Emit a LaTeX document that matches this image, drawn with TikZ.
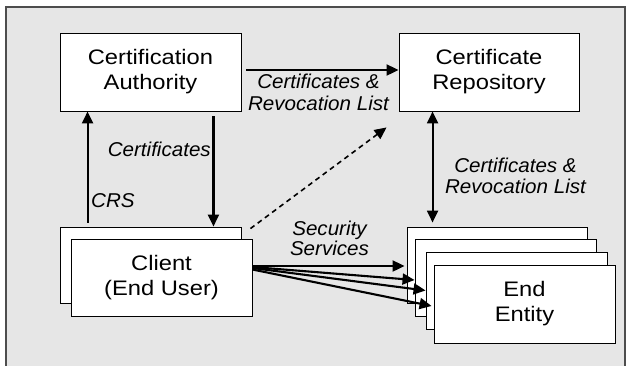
\documentclass[tikz,border=0pt]{standalone}
\usepackage{fontspec}
\setmainfont{Liberation Sans}
\newfontfamily\boxfont[FakeStretch=1.13]{Liberation Sans}
\newfontfamily\notefont[FakeStretch=1.03]{Liberation Sans}
\usetikzlibrary{arrows.meta}
\definecolor{panel}{HTML}{E6E6E6}
\definecolor{rim}{HTML}{4D4D4D}
\begin{document}
\begin{tikzpicture}[x=1pt,y=-1pt,
  entity/.style={draw=black, fill=white, line width=0.9pt,
    minimum width=181pt, minimum height=77pt, inner sep=0pt,
    align=center, font=\boxfont\fontsize{21}{25}\selectfont},
  head/.style={Triangle[length=12pt,width=11pt]},
  flow/.style={line width=2.1pt, -{Triangle[length=12pt,width=11pt]}},
  note/.style={font=\notefont\itshape\fontsize{20}{21}\selectfont,
    align=center, inner sep=0pt}
]
\useasboundingbox (0,0) rectangle (629,365);

% panel behind everything
\fill[panel] (6,7) rectangle (625,366);
\draw[rim, line width=1.5pt] (6,366) -- (6,7) -- (625,7) -- (625,366);

% boxes
\node[entity, minimum height=78pt] (ca) at (150.5,72) {Certification\\Authority};
\node[entity, minimum height=78pt, minimum width=180pt] (cr) at (489,72) {Certificate\\Repository};
\node[entity, minimum height=76pt] (cb) at (150.5,265) {};
\node[entity] (cf) at (161.5,277.5) {Client\\(End User)};
\node[entity, minimum width=180pt, minimum height=76pt] (e1) at (497,265) {};
\node[entity] (e2) at (505.5,277.5) {};
\node[entity] (e3) at (516.5,290.5) {};
\node[entity, minimum height=78pt] (e4) at (524.5,304) {End\\Entity};

% connectors
\draw[flow] ([xshift=5pt,yshift=2pt]ca.east) -- ([yshift=2pt]cr.west);
\draw[flow] ([xshift=28pt,yshift=4pt]cb.north west) -- ([xshift=28pt]ca.south west);
\draw[flow] ([xshift=-28pt,yshift=-5pt]ca.south east) -- ([xshift=-28pt]cb.north east);
\draw[flow, line width=1.6pt, dash pattern=on 5pt off 4pt]
  ([xshift=9pt,yshift=-2pt]cb.north east) -- ([xshift=-12pt,yshift=-16pt]cr.south west);
\draw[line width=2.1pt, {Triangle[length=12pt,width=11pt]}-{Triangle[length=12pt,width=11pt]}]
  ([xshift=34pt]cr.south west) -- ([xshift=26pt,yshift=4pt]e1.north west);

% security services fan
\draw[flow] ([yshift=11.5pt]cf.east) -- ([xshift=-2pt,yshift=-1pt]e1.west);
\draw[flow] ([yshift=10.5pt]cf.east) -- ([yshift=-2.5pt]e2.west);
\draw[flow] ([yshift=9.5pt]cf.east) -- (e3.west);
\draw[flow] ([yshift=8pt]cf.east) -- ([xshift=-2pt,yshift=-2pt]e4.west);

% labels (base anchor sits on the last line)
\node[note, anchor=base, font=\notefont\itshape\fontsize{20}{22}\selectfont] (l1) at (318.5,110) {Certificates \&\\Revocation List};
\node[note, anchor=base] (l2) at (515.5,193) {Certificates \&\\Revocation List};
\node[note, anchor=base east] (l3) at (211,156) {Certificates};
\node[note, anchor=base west] (l4) at (91,207) {CRS};
\node[note, anchor=base, font=\notefont\itshape\fontsize{20}{20}\selectfont] (l5) at (329.5,255) {Security\\Services};
\end{tikzpicture}
\end{document}
